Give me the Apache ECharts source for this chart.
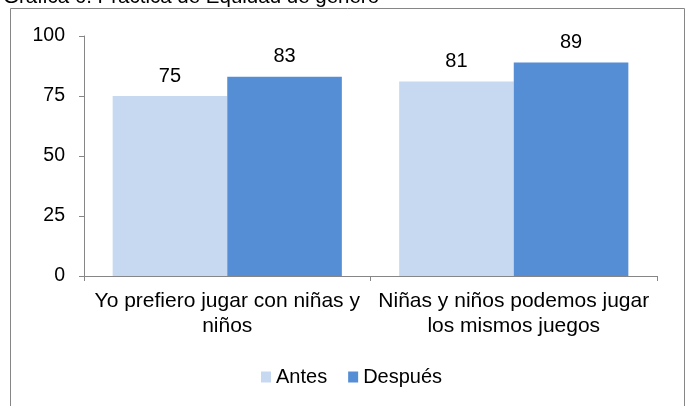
<!DOCTYPE html>
<html>
<head>
<meta charset="utf-8">
<script src="https://cdn.jsdelivr.net/npm/echarts@6/dist/echarts.min.js"></script>
<style>
html,body{margin:0;padding:0;background:#fff;}
#chart{width:689px;height:406px;}
</style>
</head>
<body>
<div id="chart"></div>
<script>
const titleText = 'Gráfica 6. Práctica de Equidad de género';
const categories = ['Yo prefiero jugar con niñas y\nniños', 'Niñas y niños podemos jugar\nlos mismos juegos'];
const seriesNames = ['Antes', 'Después'];
const antes = [75, 81];
const despues = [83, 89];
const yTicks = [0, 25, 50, 75, 100];

const FONT = 'Liberation Sans, Arial, sans-serif';
const chart = echarts.init(document.getElementById('chart'));
chart.setOption({
  backgroundColor: '#ffffff',
  animation: false,
  title: {
    text: titleText,
    left: -2,
    top: -18,
    textStyle: {fontFamily: FONT, fontSize: 20.5, fontWeight: 'normal', color: '#000', lineHeight: 20}
  },
  graphic: [{
    type: 'rect',
    shape: {x: 10.5, y: 8.5, width: 674, height: 420},
    style: {fill: '#fff', stroke: '#868686', lineWidth: 1},
    silent: true,
    z: -1
  }],
  legend: {
    data: seriesNames,
    left: 256,
    top: 362,
    itemWidth: 10,
    itemHeight: 11,
    itemGap: 21,
    icon: 'rect',
    textStyle: {fontFamily: FONT, fontSize: 20, color: '#000', padding: [0, 0, 0, 0]}
  },
  grid: {left: 84, right: 32, top: 36, bottom: 130, containLabel: false},
  xAxis: {
    type: 'category',
    data: categories,
    axisLine: {lineStyle: {color: '#868686', width: 1}},
    axisTick: {show: true, length: 5, lineStyle: {color: '#868686'}},
    axisLabel: {fontFamily: FONT, fontSize: 21, color: '#000', lineHeight: 25, margin: 13, interval: 0}
  },
  yAxis: {
    type: 'value',
    min: yTicks[0],
    max: yTicks[yTicks.length - 1],
    interval: 25,
    splitLine: {show: false},
    axisLine: {show: true, lineStyle: {color: '#868686', width: 1}},
    axisTick: {show: true, length: 5, lineStyle: {color: '#868686'}},
    axisLabel: {fontFamily: FONT, fontSize: 19.5, color: '#000', margin: 19}
  },
  series: [
    {
      name: seriesNames[0], type: 'bar', data: antes,
      barGap: '0%', barCategoryGap: '20%',
      itemStyle: {color: '#C6D9F1'},
      label: {show: true, position: 'top', distance: 10, fontFamily: FONT, fontSize: 20, color: '#000'}
    },
    {
      name: seriesNames[1], type: 'bar', data: despues,
      barGap: '0%', barCategoryGap: '20%',
      itemStyle: {color: '#558ED5'},
      label: {show: true, position: 'top', distance: 10, fontFamily: FONT, fontSize: 20, color: '#000'}
    }
  ]
});
</script>
</body>
</html>
